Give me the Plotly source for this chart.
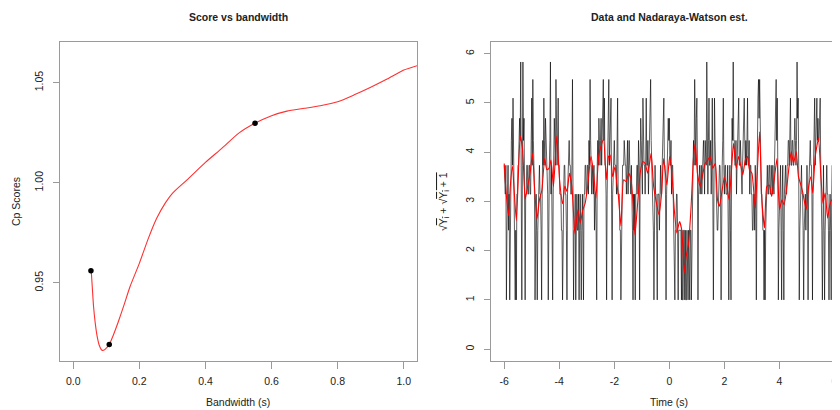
import numpy as np
import plotly.graph_objects as go

# ---------------- Left panel data: Cp score vs bandwidth ----------------
bw = [0.0545, 0.0576, 0.0616, 0.0667, 0.0727, 0.0788, 0.0869, 0.0949, 0.1010,
      0.1091, 0.1212, 0.1364, 0.1535, 0.1717, 0.2000, 0.2273, 0.2525, 0.2778,
      0.3000, 0.3434, 0.4000, 0.4495, 0.5000, 0.5495, 0.6000, 0.6465, 0.7000,
      0.7475, 0.8000, 0.8485, 0.9000, 0.9495, 1.0000, 1.0404]
cp = [0.9560, 0.9480, 0.9380, 0.9297, 0.9230, 0.9188, 0.9163, 0.9165, 0.9175,
      0.9192, 0.9238, 0.9305, 0.9388, 0.9480, 0.9597, 0.9722, 0.9822, 0.9897,
      0.9947, 1.0013, 1.0102, 1.0172, 1.0247, 1.0297, 1.0335, 1.0358, 1.0372,
      1.0385, 1.0405, 1.0438, 1.0477, 1.0518, 1.0563, 1.0585]
bw_pts = [0.0536, 0.109, 0.550]
cp_pts = [0.956, 0.9192, 1.0297]

# ---------------- Right panel data: counts (every 0.02 s) and NW estimate ----------------
t_start, t_step = -6.0, 0.02
counts = [
    3, 2, 2, 3, 0, 1, 2, 3, 1, 2, 0, 1, 3, 4, 5, 3, 6, 3, 2, 1,
    0, 1, 0, 2, 2, 3, 3, 4, 5, 4, 8, 2, 0, 3, 8, 4, 5, 2, 0, 2,
    2, 3, 3, 2, 2, 3, 3, 2, 2, 4, 6, 3, 7, 4, 3, 2, 0, 1, 2, 1,
    0, 1, 2, 3, 3, 2, 2, 1, 0, 2, 4, 3, 6, 4, 3, 5, 4, 3, 3, 2,
    0, 2, 3, 4, 8, 2, 3, 1, 0, 2, 3, 5, 4, 3, 7, 4, 3, 4, 6, 3,
    3, 2, 2, 2, 1, 1, 0, 2, 2, 3, 3, 2, 2, 1, 0, 2, 3, 3, 4, 3,
    3, 2, 2, 3, 7, 2, 0, 1, 1, 2, 0, 1, 2, 1, 1, 2, 0, 1, 2, 1,
    0, 1, 2, 1, 0, 2, 2, 3, 3, 2, 2, 3, 3, 2, 4, 3, 7, 4, 3, 2,
    3, 2, 2, 3, 1, 2, 2, 1, 0, 3, 4, 3, 5, 4, 3, 4, 5, 3, 4, 5,
    7, 4, 6, 3, 3, 2, 0, 2, 3, 4, 7, 3, 4, 4, 6, 2, 0, 2, 3, 4,
    4, 3, 3, 3, 2, 3, 6, 2, 2, 2, 1, 1, 0, 1, 2, 3, 3, 3, 4, 3,
    3, 3, 2, 3, 4, 2, 3, 4, 3, 2, 2, 3, 2, 1, 0, 2, 1, 2, 0, 2,
    2, 3, 3, 2, 4, 3, 0, 3, 5, 4, 3, 2, 6, 4, 3, 3, 2, 3, 6, 3,
    3, 4, 2, 3, 4, 5, 7, 4, 3, 2, 2, 1, 0, 2, 3, 2, 2, 1, 0, 2,
    2, 2, 1, 2, 3, 2, 2, 3, 4, 5, 6, 3, 3, 2, 0, 2, 3, 4, 5, 4,
    5, 3, 3, 4, 2, 3, 3, 2, 1, 1, 0, 1, 1, 2, 2, 1, 0, 1, 1, 1,
    1, 1, 0, 1, 0, 0, 1, 1, 0, 1, 0, 0, 1, 0, 0, 1, 0, 0, 1, 1,
    0, 1, 2, 3, 4, 3, 7, 4, 3, 5, 6, 3, 0, 2, 3, 3, 2, 3, 3, 2,
    3, 3, 4, 3, 2, 4, 3, 3, 8, 3, 2, 4, 6, 3, 3, 4, 2, 3, 6, 2,
    0, 2, 6, 4, 3, 2, 2, 1, 1, 2, 2, 3, 3, 2, 0, 2, 3, 4, 6, 3,
    2, 3, 3, 2, 2, 2, 3, 1, 0, 2, 3, 1, 0, 3, 5, 4, 8, 4, 4, 3,
    3, 4, 2, 3, 4, 5, 6, 3, 3, 4, 3, 2, 2, 3, 4, 5, 6, 4, 3, 4,
    3, 4, 6, 3, 3, 4, 2, 3, 3, 2, 2, 1, 1, 2, 2, 1, 3, 2, 0, 2,
    5, 6, 7, 5, 7, 4, 3, 2, 2, 1, 1, 1, 0, 1, 0, 1, 2, 3, 3, 2,
    2, 3, 3, 2, 2, 3, 2, 2, 3, 2, 2, 3, 4, 5, 7, 4, 6, 3, 0, 1,
    2, 2, 3, 1, 0, 2, 3, 1, 0, 2, 3, 3, 2, 2, 3, 3, 4, 4, 3, 4,
    6, 3, 3, 4, 4, 3, 3, 4, 5, 4, 3, 4, 8, 5, 6, 3, 0, 1, 2, 2,
    3, 2, 2, 1, 0, 1, 2, 2, 1, 2, 3, 2, 0, 2, 3, 3, 4, 3, 3, 2,
    0, 2, 3, 4, 6, 3, 4, 5, 6, 4, 5, 4, 4, 5, 6, 3, 2, 1, 0, 2,
    3, 1, 0, 1, 2, 3, 3, 2, 2, 1, 0, 1, 2, 1, 0, 2, 3, 1, 0, 2, 2,
]

nw_t = [-6.00, -5.93, -5.84, -5.78, -5.70, -5.64, -5.56, -5.50, -5.42, -5.33,
        -5.24, -5.14, -5.06, -4.97, -4.90, -4.81, -4.72, -4.63, -4.53, -4.45,
        -4.37, -4.30, -4.21, -4.09, -3.99, -3.88, -3.80, -3.72, -3.63, -3.54,
        -3.43, -3.32, -3.24, -3.14, -3.06, -2.97, -2.85, -2.75, -2.67, -2.57,
        -2.49, -2.39, -2.29, -2.21, -2.15, -2.06, -1.97, -1.91, -1.85, -1.76,
        -1.66, -1.57, -1.48, -1.40, -1.33, -1.25, -1.16, -1.06, -0.97, -0.88,
        -0.79, -0.72, -0.66, -0.57, -0.48, -0.38, -0.28, -0.21, -0.09, 0.01,
        0.09, 0.18, 0.27, 0.37, 0.45, 0.54, 0.61, 0.70, 0.79, 0.88,
        0.94, 1.02, 1.12, 1.22, 1.30, 1.40, 1.48, 1.58, 1.67, 1.75,
        1.82, 1.92, 2.00, 2.09, 2.17, 2.25, 2.33, 2.43, 2.51, 2.60,
        2.67, 2.76, 2.84, 2.91, 3.00, 3.12, 3.18, 3.28, 3.36, 3.46,
        3.54, 3.63, 3.72, 3.81, 3.91, 4.00, 4.09, 4.17, 4.27, 4.35,
        4.43, 4.51, 4.61, 4.69, 4.78, 4.85, 4.97, 5.06, 5.14, 5.21,
        5.30, 5.42, 5.50, 5.58, 5.66, 5.75, 5.82, 5.90, 6.00]
nw_v = [3.77, 3.17, 2.71, 3.30, 3.71, 3.23, 2.61, 3.30, 4.33, 4.04,
        3.04, 3.33, 3.57, 3.98, 3.30, 2.64, 3.03, 3.23, 3.87, 3.64,
        3.67, 3.84, 3.30, 4.33, 3.44, 2.95, 3.31, 3.20, 3.57, 3.30,
        2.34, 2.83, 2.56, 2.83, 2.96, 3.30, 3.91, 3.57, 3.06, 3.91,
        4.11, 4.26, 3.44, 3.91, 3.94, 3.50, 3.71, 3.37, 3.10, 2.50,
        3.44, 3.40, 3.57, 3.47, 3.04, 2.32, 2.90, 3.57, 3.81, 3.77,
        3.57, 3.77, 3.98, 3.30, 3.00, 2.73, 3.17, 3.87, 3.33, 3.91,
        3.57, 2.83, 2.36, 2.59, 2.42, 1.55, 1.88, 2.15, 2.90, 3.91,
        4.18, 3.57, 3.30, 3.57, 3.77, 3.84, 3.91, 3.67, 3.77, 3.03,
        2.90, 3.23, 3.50, 3.30, 3.03, 3.57, 4.18, 3.67, 3.91, 3.71,
        3.54, 3.84, 3.91, 3.64, 3.57, 2.86, 3.44, 4.41, 3.03, 2.46,
        3.30, 3.33, 3.10, 3.44, 3.87, 2.83, 3.03, 2.93, 3.30, 3.71,
        4.01, 3.77, 4.01, 3.50, 3.33, 3.17, 2.83, 3.30, 3.50, 3.17,
        3.91, 4.28, 3.57, 2.96, 3.17, 2.66, 2.90, 3.03, 2.83]

x_ticks_left = [0.0, 0.2, 0.4, 0.6, 0.8, 1.0]
x_ticktext_left = ["0.0", "0.2", "0.4", "0.6", "0.8", "1.0"]
y_ticks_left = [0.95, 1.00, 1.05]
y_ticktext_left = ["0.95", "1.00", "1.05"]
x_ticks_right = [-6, -4, -2, 0, 2, 4, 6]
x_ticktext_right = ["-6", "-4", "-2", "0", "2", "4", "6"]
y_ticks_right = [0, 1, 2, 3, 4, 5, 6]

# ---------------- derived ----------------
cnt = np.array(counts, dtype=float)
t_data = t_start + t_step * np.arange(len(counts))
y_data = np.sqrt(cnt) + np.sqrt(cnt + 1)

# The page body has an 8px margin: the figure is drawn at (8, 8) in the window.
OFF = 8
W, H = 840 - OFF, 410 - OFF
FONT = "Liberation Sans, Arial, Helvetica, sans-serif"
AXC = "#9a9a9a"
TXC = "#222222"


def px(x):
    return (x - OFF) / W


def py(y):
    return (H - (y - OFF)) / H


fig = go.Figure()

fig.add_trace(go.Scatter(x=bw, y=cp, mode="lines", line=dict(color="#ff3030", width=1.1, shape="spline", smoothing=0.6),
                         xaxis="x", yaxis="y", hoverinfo="skip", showlegend=False))
fig.add_trace(go.Scatter(x=bw_pts, y=cp_pts, mode="markers", marker=dict(color="black", size=5.5),
                         xaxis="x", yaxis="y", showlegend=False))

fig.add_trace(go.Scatter(x=t_data, y=y_data, mode="lines", line=dict(color="rgba(0,0,0,0.7)", width=0.9),
                         xaxis="x2", yaxis="y2", hoverinfo="skip", showlegend=False))
fig.add_trace(go.Scatter(x=nw_t, y=nw_v, mode="lines", line=dict(color="#ff0000", width=1.1, shape="spline", smoothing=0.5),
                         xaxis="x2", yaxis="y2", hoverinfo="skip", showlegend=False))

ydom = [py(361), py(41.7)]
common_x = dict(showgrid=False, zeroline=False, showline=True, linecolor=AXC, linewidth=1,
                ticks="outside", ticklen=7, tickcolor=AXC, tickwidth=1, automargin=False,
                tickfont=dict(family=FONT, size=10.5, color=TXC), ticklabelstandoff=3)
common_y = dict(showgrid=False, zeroline=False, showline=True, linecolor=AXC, linewidth=1,
                ticks="outside", ticklen=6, tickcolor=AXC, tickwidth=1, tickangle=-90, automargin=False,
                tickfont=dict(family=FONT, size=10.5, color=TXC), ticklabelstandoff=6)

fig.update_layout(
    width=W, height=H, autosize=False,
    margin=dict(l=0, r=0, t=0, b=0, pad=0),
    paper_bgcolor="white", plot_bgcolor="white",
    showlegend=False,
    xaxis=dict(domain=[px(60), px(417)], range=[-0.04, 1.04], tickvals=x_ticks_left,
               ticktext=x_ticktext_left, mirror=True, anchor="y", **common_x),
    yaxis=dict(domain=ydom, range=[0.9109, 1.0705], tickvals=y_ticks_left,
               ticktext=y_ticktext_left, mirror=True, anchor="x", **common_y),
    xaxis2=dict(domain=[px(491), 1.0], range=[-6.48, 6.2], tickvals=x_ticks_right,
                ticktext=x_ticktext_right, mirror=True, anchor="y2", **common_x),
    yaxis2=dict(domain=ydom, range=[-0.24, 6.24], tickvals=y_ticks_right,
                mirror=False, anchor="x2", **common_y),
)


def ann(text, x, y, size=10.5, bold=False, angle=0):
    fig.add_annotation(text=("<b>%s</b>" % text) if bold else text, x=px(x), y=py(y),
                       xref="paper", yref="paper", showarrow=False, textangle=angle,
                       xanchor="center", yanchor="middle",
                       font=dict(family=FONT, size=size, color=TXC))


ann("Score vs bandwidth", 238, 17, size=10.5, bold=True)
ann("Data and Nadaraya-Watson est.", 669, 17, size=10.5, bold=True)
ann("Bandwidth (s)", 238, 402, size=10.5)
ann("Time (s)", 669, 402, size=10.5)
ann("Cp Scores", 16, 202, size=10.5, angle=-90)
ann("√<span style='text-decoration:overline'>Y<sub>i</sub></span> + √<span style='text-decoration:overline'>Y<sub>i</sub> + 1</span>",
    444, 202, size=10.5, angle=-90)

fig.write_html("out.html")
